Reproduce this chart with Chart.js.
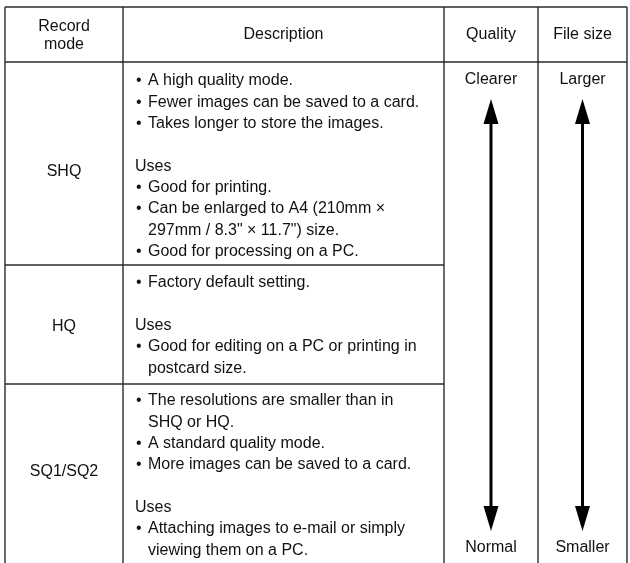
<!DOCTYPE html>
<html>
<head>
<meta charset="utf-8">
<script src="https://cdn.jsdelivr.net/npm/chart.js@4.4.0/dist/chart.umd.min.js"></script>
<style>
  html, body { margin: 0; padding: 0; background: #fff; }
</style>
</head>
<body>
<canvas id="tabela" width="630" height="563"></canvas>
<script>
// table content
var headers = [['Record', 'mode'], ['Description'], ['Quality'], ['File size']];
var modes = ['SHQ', 'HQ', 'SQ1/SQ2'];
var shqLines = [
    '• A high quality mode.',
    '• Fewer images can be saved to a card.',
    '• Takes longer to store the images.',
    '',
    'Uses',
    '• Good for printing.',
    '• Can be enlarged to A4 (210mm \u00d7',
    '  297mm / 8.3" \u00d7 11.7") size.',
    '• Good for processing on a PC.'
];
var hqLines = [
    '• Factory default setting.',
    '',
    'Uses',
    '• Good for editing on a PC or printing in',
    '  postcard size.'
];
var sqLines = [
    '• The resolutions are smaller than in',
    '  SHQ or HQ.',
    '• A standard quality mode.',
    '• More images can be saved to a card.',
    '',
    'Uses',
    '• Attaching images to e-mail or simply',
    '  viewing them on a PC.'
];
var qualityLabels = ['Clearer', 'Normal'];
var sizeLabels = ['Larger', 'Smaller'];

// layout (page units)
var colEdges = [5, 123, 444, 538, 627];
var rowEdges = [7, 62, 265, 384, 563];
var modeY = [172, 327, 472];
var firstLineY = [81, 283, 401];
var lineH = 21.3;
var arrowTop = 99, arrowBottom = 531, headLen = 25, headW = 15;

var FONT = '16px "Liberation Sans", Arial, Helvetica, sans-serif';

function colCenter(i) { return (colEdges[i] + colEdges[i + 1]) / 2; }

// the two arrows are line datasets, heads drawn by the plugin
var arrowCols = [2, 3];
var datasets = arrowCols.map(function (c) {
    return {
        data: [{ x: colCenter(c), y: arrowTop + headLen - 2 }, { x: colCenter(c), y: arrowBottom - headLen + 2 }],
        showLine: true,
        borderColor: '#000',
        borderWidth: 3,
        pointRadius: 0,
        fill: false
    };
});

var tablePlugin = {
    id: 'tablePlugin',
    beforeDatasetsDraw: function (chart) {
        var ctx = chart.ctx;
        var sx = chart.scales.x, sy = chart.scales.y;
        var X = function (v) { return sx.getPixelForValue(v); };
        var Y = function (v) { return sy.getPixelForValue(v); };
        ctx.save();
        ctx.strokeStyle = '#2a2a2a';
        ctx.lineWidth = 1.4;
        // vertical lines
        colEdges.forEach(function (x) {
            ctx.beginPath();
            ctx.moveTo(X(x), Y(rowEdges[0]));
            ctx.lineTo(X(x), Y(rowEdges[rowEdges.length - 1]));
            ctx.stroke();
        });
        // top + header line across
        [rowEdges[0], rowEdges[1]].forEach(function (y) {
            ctx.beginPath();
            ctx.moveTo(X(colEdges[0]), Y(y));
            ctx.lineTo(X(colEdges[colEdges.length - 1]), Y(y));
            ctx.stroke();
        });
        // row separators only across first two columns
        [rowEdges[2], rowEdges[3]].forEach(function (y) {
            ctx.beginPath();
            ctx.moveTo(X(colEdges[0]), Y(y));
            ctx.lineTo(X(colEdges[2]), Y(y));
            ctx.stroke();
        });

        ctx.fillStyle = '#111';
        ctx.font = FONT;
        ctx.textBaseline = 'middle';
        ctx.textAlign = 'center';
        // headers
        headers.forEach(function (h, i) {
            if (h.length === 2) {
                ctx.fillText(h[0], X(colCenter(i)), Y(27));
                ctx.fillText(h[1], X(colCenter(i)), Y(45));
            } else {
                ctx.fillText(h[0], X(colCenter(i)), Y(35));
            }
        });
        // modes
        modes.forEach(function (m, i) {
            ctx.fillText(m, X(colCenter(0)), Y(modeY[i]));
        });
        // quality / size ends
        ctx.fillText(qualityLabels[0], X(colCenter(2)), Y(80));
        ctx.fillText(qualityLabels[1], X(colCenter(2)), Y(548));
        ctx.fillText(sizeLabels[0], X(colCenter(3)), Y(80));
        ctx.fillText(sizeLabels[1], X(colCenter(3)), Y(548));

        // descriptions
        ctx.textAlign = 'left';
        [shqLines, hqLines, sqLines].forEach(function (lines, r) {
            lines.forEach(function (t, k) {
                if (!t) return;
                var y = Y(firstLineY[r] + k * lineH);
                if (t.charAt(0) === '•') {
                    ctx.fillText('•', X(136), y);
                    ctx.fillText(t.slice(2), X(148), y);
                } else if (t.charAt(0) === ' ') {
                    ctx.fillText(t.trim(), X(148), y);
                } else {
                    ctx.fillText(t, X(135), y);
                }
            });
        });
        ctx.restore();
    },
    afterDatasetsDraw: function (chart) {
        var ctx = chart.ctx;
        var sx = chart.scales.x, sy = chart.scales.y;
        ctx.save();
        ctx.fillStyle = '#000';
        arrowCols.forEach(function (c) {
            var x = sx.getPixelForValue(colCenter(c));
            var t = sy.getPixelForValue(arrowTop), b = sy.getPixelForValue(arrowBottom);
            ctx.beginPath();
            ctx.moveTo(x, t);
            ctx.lineTo(x + headW / 2, t + headLen);
            ctx.lineTo(x - headW / 2, t + headLen);
            ctx.closePath();
            ctx.fill();
            ctx.beginPath();
            ctx.moveTo(x, b);
            ctx.lineTo(x + headW / 2, b - headLen);
            ctx.lineTo(x - headW / 2, b - headLen);
            ctx.closePath();
            ctx.fill();
        });
        ctx.restore();
    }
};

new Chart(document.getElementById('tabela').getContext('2d'), {
    type: 'scatter',
    data: { datasets: datasets },
    options: {
        responsive: false,
        animation: false,
        devicePixelRatio: 1,
        layout: { padding: 0 },
        plugins: { legend: { display: false }, tooltip: { enabled: false } },
        scales: {
            x: { type: 'linear', min: 0, max: 630, display: false },
            y: { type: 'linear', min: 0, max: 563, reverse: true, display: false }
        }
    },
    plugins: [tablePlugin]
});
</script>
</body>
</html>
